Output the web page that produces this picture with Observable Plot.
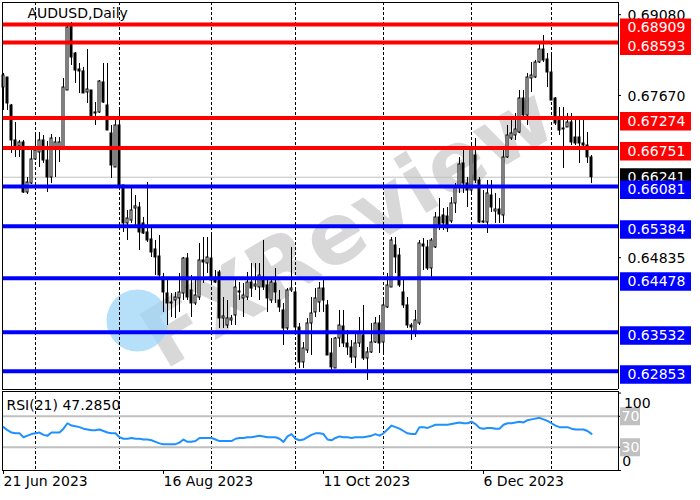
<!DOCTYPE html>
<html><head><meta charset="utf-8">
<script src="https://cdn.jsdelivr.net/npm/d3@7"></script>
<script src="https://cdn.jsdelivr.net/npm/@observablehq/plot@0.6"></script>
<style>
body{margin:0;background:#fff;}
#wrap{position:relative;width:700px;height:500px;overflow:hidden;background:#fff;}
#wrap svg{position:absolute;left:0;background:transparent;}
</style></head><body><div id="wrap"></div>
<script>
const opens = [
.67808,.67983,.67494,.66883,.66778,.66848,.65974,.66131,.66551,.66673,
.66883,.66533,.66236,.66760,.66760,.66760,.67756,.68891,.68402,.68123,
.68088,.67721,.67756,.67354,.67372,.67896,.67494,.67005,.66411,.67145,
.66097,.65433,.65485,.65695,.65712,.65433,.65276,.65154,.64979,.64856,
.64490,.64210,.64053,.64088,.64123,.64210,.64821,.64263,.64036,.64140,
.64787,.64734,.64821,.64437,.64577,.63774,.63651,.63739,.63826,.64228,
.64123,.64140,.64402,.64332,.64315,.64490,.64350,.64088,.64385,.64088,
.63914,.63599,.64263,.64228,.63616,.63005,.63215,.63686,.63879,.64053,
.64297,.64001,.63162,.62900,.63424,.63634,.63337,.63267,.63092,.63337,
.63477,.63075,.63180,.63354,.63686,.63354,.63966,.64315,.65049,.64874,
.64228,.64001,.63651,.63512,.63686,.65066,.65014,.64647,.65014,.65538,
.65573,.65555,.65468,.65782,.66062,.66481,.66131,.66009,.66621,.66184,
.65450,.65450,.65922,.65643,.65677,.65573,.66586,.66917,.66970,.67022,
.67616,.67319,.67966,.67983,.68245,.68472,.68298,.68070,.67616,.67284,
.67092,.67110,.67197,.66935,.66935,.66830,.66795,.66586];
const highs = [
.68053,.67983,.67512,.67197,.66883,.66883,.66236,.66708,.67022,.67022,
.66970,.66865,.66987,.66935,.66935,.67966,.68891,.68944,.68420,.68228,
.68158,.68472,.67756,.67546,.67931,.68228,.68228,.67145,.67232,.67407,
.66097,.65660,.66062,.65922,.65800,.65538,.66149,.65346,.65136,.65223,
.64560,.64472,.64210,.64228,.64560,.64839,.64909,.64525,.64437,.65084,
.65188,.65188,.65223,.64612,.64612,.64140,.64088,.63826,.64437,.64402,
.64385,.64577,.64734,.64734,.64734,.65136,.64490,.64490,.64647,.64263,
.64036,.64297,.65014,.64297,.63686,.63354,.63774,.64140,.64297,.64402,
.64437,.64088,.63424,.63442,.63914,.63914,.63564,.63389,.63512,.63791,
.64001,.63267,.63686,.63791,.63826,.64088,.64560,.65188,.65188,.64996,
.64437,.64140,.63686,.63914,.65136,.65171,.65136,.65171,.65625,.65870,
.65695,.65712,.65887,.66131,.66586,.66708,.66236,.66795,.66917,.66236,
.66009,.66184,.66184,.65957,.65870,.66708,.67145,.67232,.67354,.67756,
.67756,.68053,.68245,.68280,.68577,.68717,.68402,.68402,.67634,.67459,
.67459,.67354,.67354,.67232,.67232,.67232,.67022,.66621];
const lows = [
.67407,.67407,.66656,.66586,.66586,.65957,.65939,.66114,.66533,.66411,
.66481,.65974,.66131,.66236,.66498,.66760,.67756,.68193,.67878,.67704,
.67704,.67529,.67232,.67145,.67354,.67529,.67057,.66219,.66411,.66097,
.65276,.65136,.65433,.65363,.64961,.65241,.65101,.64839,.64525,.64490,
.63879,.63651,.63791,.63774,.63879,.64088,.64088,.63791,.64001,.64088,
.64385,.64560,.64385,.64385,.63599,.63599,.63599,.63651,.63651,.64088,
.63791,.64088,.64140,.64263,.64088,.64263,.63879,.64036,.64036,.63879,
.63302,.63564,.64228,.63529,.62900,.62900,.63162,.63127,.63791,.63879,
.63879,.63127,.62865,.62900,.63267,.63267,.63127,.62988,.62900,.63267,
.63040,.62691,.63162,.63337,.63162,.63162,.63949,.64315,.64560,.64315,
.63949,.63599,.63389,.63442,.63651,.64612,.64612,.64490,.64996,.65311,
.65311,.65276,.65433,.65608,.65957,.65957,.65712,.65974,.66131,.65433,
.65433,.65258,.65625,.65433,.65433,.65433,.66568,.66883,.66883,.67005,
.67232,.67145,.67721,.67966,.68228,.68245,.67808,.67581,.67145,.66970,
.66394,.67110,.66795,.66795,.66481,.66760,.66481,.66131];
const closes = [
.68018,.67529,.66883,.66778,.66848,.65974,.66149,.66551,.66708,.66883,
.66533,.66236,.66917,.66848,.66848,.67808,.68856,.68332,.68105,.68088,
.67704,.67773,.67284,.67372,.67913,.67546,.67057,.66446,.67145,.66097,
.65433,.65520,.65660,.65730,.65276,.65258,.65136,.64926,.64839,.64525,
.64228,.64036,.64036,.64140,.64228,.64821,.64140,.64036,.64175,.64787,
.64752,.64839,.64437,.64402,.63774,.63809,.63774,.63774,.64315,.64245,
.64175,.64402,.64297,.64367,.64525,.64315,.64123,.64402,.64228,.63966,
.63599,.64263,.64297,.63616,.63005,.63250,.63686,.63861,.64123,.64297,
.64088,.63127,.62918,.63424,.63651,.63337,.63267,.63092,.63337,.63512,
.63075,.63180,.63354,.63686,.63337,.64001,.64350,.65136,.64839,.64350,
.64001,.63651,.63616,.63739,.65084,.65031,.64647,.65136,.65538,.65398,
.65433,.65346,.65782,.66062,.66463,.66131,.66009,.66760,.66184,.65450,
.65468,.65957,.65712,.65677,.65590,.66586,.66970,.67005,.67075,.67616,
.67319,.67983,.68018,.68245,.68472,.68280,.68070,.67581,.67180,.67057,
.67075,.67197,.66848,.66830,.66830,.66795,.66586,.66241];
const rsi = [
56,52,49,48,48,43,45,47,48,49,
46,45,49,49,49,54,61,58,57,56,
54,53,52,52,53,51,49,48,48,43,
41,41,42,41,41,40,40,39,37,35,
34,34,34,34,36,40,37,37,38,42,
42,42,42,40,38,38,38,38,41,42,
42,43,43,44,45,44,43,43,43,41,
37,44,47,41,39,40,43,46,48,48,
47,40,39,42,44,43,43,42,43,43,
43,44,45,47,45,48,53,58,56,54,
51,48,47,47,56,56,55,57,59,59,
59,59,60,61,62,61,61,63,60,55,
54,55,55,54,54,59,61,61,62,63,
62,65,66,67,68,66,64,61,58,56,
56,56,54,53,53,53,51,47.285];
const redLevels = [0.68909, 0.68593, 0.67274, 0.66751];
const blueLevels = [0.66081, 0.65384, 0.64478, 0.63532, 0.62853];
const lastPrice = [0.66241];
const priceTicks = [0.69080, 0.67670, 0.64835];
const monthStarts = [8, 29, 52, 73, 95, 117, 137];
const dateTickIdx = [0, 40, 80, 120];
const dateTickLabels = ["21 Jun 2023", "16 Aug 2023", "11 Oct 2023", "6 Dec 2023"];
const rsiLevels = [70, 30];
const rsiAxis = [100, 0];
const title = "AUDUSD,Daily";
const rsiTitle = "RSI(21) 47.2850";
const watermark = "FXReview";

const bars = closes.map((c, i) => ({i, open: opens[i], high: highs[i], low: lows[i], close: c}));
// layout in bar-slot units (4 px per bar)
const X0 = -0.25, XEND = 153.75, XMAX = 172;
const FONT = "DejaVu Sans";
const yDom = [0.62533, 0.69293];

const main = Plot.plot({
  width: 700, height: 391, marginTop: 2, marginBottom: 2, marginLeft: 2, marginRight: 9,
  style: {fontFamily: FONT, background: "transparent"},
  x: {domain: [X0, XMAX], axis: null},
  y: {domain: yDom, axis: null},
  marks: [
    Plot.text([watermark], {frameAnchor: "top-left", dx: 346, dy: 226, rotate: -31, fontSize: 84, fontWeight: "bold", fill: "#c8c8c8", fillOpacity: 0.7, textAnchor: "middle", lineAnchor: "middle"}),
    Plot.dot([0], {frameAnchor: "top-left", dx: 135, dy: 318, r: 31, fill: "#9dd6f7", fillOpacity: 0.75}),
    Plot.ruleX(monthStarts, {x: d => d, stroke: "black", strokeDasharray: "3,2"}),
    Plot.ruleY(lastPrice, {y: d => d, x1: X0, x2: XEND, stroke: "#c0c0c0"}),
    Plot.ruleX(bars, {x: "i", y1: "low", y2: "high", stroke: "black"}),
    Plot.rect(bars, {x1: d => d.i - 0.25, x2: d => d.i + 0.25, y1: "open", y2: "close",
      fill: d => d.close > d.open ? "white" : "black", stroke: "black"}),
    Plot.ruleY(redLevels, {y: d => d, x1: X0, x2: XEND, stroke: "#ff0000", strokeWidth: 4}),
    Plot.ruleY(blueLevels, {y: d => d, x1: X0, x2: XEND, stroke: "#0000ff", strokeWidth: 4}),
    // frame
    Plot.ruleX([X0, XEND], {x: d => d, stroke: "black"}),
    Plot.ruleY(yDom, {y: d => d, x1: X0, x2: XEND, stroke: "black"}),
    // price axis
    Plot.ruleY(priceTicks, {y: d => d, x1: XEND, x2: XEND + 0.75, stroke: "black"}),
    Plot.text(priceTicks, {x: d => 156, y: d => d, text: d => d.toFixed(5), textAnchor: "start", fontSize: 14, dy: 1, fill: "black"}),
    Plot.ruleY(lastPrice, {y: d => d, x1: XEND + 0.5, x2: XMAX, stroke: "black", strokeWidth: 18}),
    Plot.text(lastPrice, {x: d => 156, y: d => d, text: d => d.toFixed(5), textAnchor: "start", fontSize: 14, fill: "white"}),
    Plot.ruleY(redLevels, {y: d => d, x1: XEND + 0.5, x2: XMAX, stroke: "#ff0000", strokeWidth: 18.5, dy: 3.25}),
    Plot.ruleY(blueLevels, {y: d => d, x1: XEND + 0.5, x2: XMAX, stroke: "#0000ff", strokeWidth: 18.5, dy: 3.25}),
    Plot.text(redLevels.concat(blueLevels), {x: d => 156, y: d => d, text: d => d.toFixed(5), textAnchor: "start", fontSize: 14, dy: 3.5, fill: "white"}),
    Plot.text([title], {frameAnchor: "top-left", dx: 25, dy: 6, textAnchor: "start", lineAnchor: "top", fontSize: 14, fill: "black"})
  ]
});

const rsiPlot = Plot.plot({
  width: 700, height: 110, marginTop: 1, marginBottom: 30, marginLeft: 2, marginRight: 9,
  style: {fontFamily: FONT, background: "transparent"},
  x: {domain: [X0, XMAX], axis: null},
  y: {domain: [0, 102], axis: null},
  marks: [
    Plot.ruleX(monthStarts, {x: d => d, stroke: "black", strokeDasharray: "3,2"}),
    Plot.ruleY(rsiLevels, {y: d => d, x1: X0, x2: XEND, stroke: "#c0c0c0", strokeWidth: 2}),
    Plot.line(rsi, {x: (d, i) => i, y: d => d, stroke: "#1e90ff", strokeWidth: 2}),
    Plot.ruleX([X0, XEND], {x: d => d, stroke: "black"}),
    Plot.ruleY([0, 102], {y: d => d, x1: X0, x2: XEND, stroke: "black"}),
    Plot.ruleY(rsiAxis.concat(rsiLevels), {y: d => d, x1: XEND, x2: XEND + 0.75, stroke: "black"}),
    Plot.ruleY(rsiLevels, {y: d => d, x1: XEND + 0.5, x2: XEND + 5.5, stroke: "#c0c0c0", strokeWidth: 18}),
    Plot.text(rsiLevels, {x: d => 154.5, y: d => d, text: d => String(d), textAnchor: "start", fontSize: 14, fill: "white"}),
    Plot.text([100], {x: d => 155.1, y: d => d, text: d => String(d), textAnchor: "start", fontSize: 14, dy: 10, fill: "black"}),
    Plot.text([0], {x: d => 154.7, y: d => d, text: d => String(d), textAnchor: "start", fontSize: 14, dy: -9, fill: "black"}),
    Plot.text([rsiTitle], {frameAnchor: "top-left", dx: 4, dy: 14, textAnchor: "start", lineAnchor: "middle", fontSize: 14, fill: "black"}),
    Plot.ruleX(dateTickIdx, {x: d => d, y1: 0, y2: -5, stroke: "black"}),
    Plot.text(dateTickIdx, {x: d => d, frameAnchor: "bottom", text: (d, i) => dateTickLabels[i], textAnchor: "start", dy: 15, fontSize: 14, fill: "black"})
  ]
});

const wrap = document.getElementById("wrap");
main.style.top = "0px";
rsiPlot.style.top = "390px";
wrap.appendChild(main);
wrap.appendChild(rsiPlot);
</script>
</body></html>
